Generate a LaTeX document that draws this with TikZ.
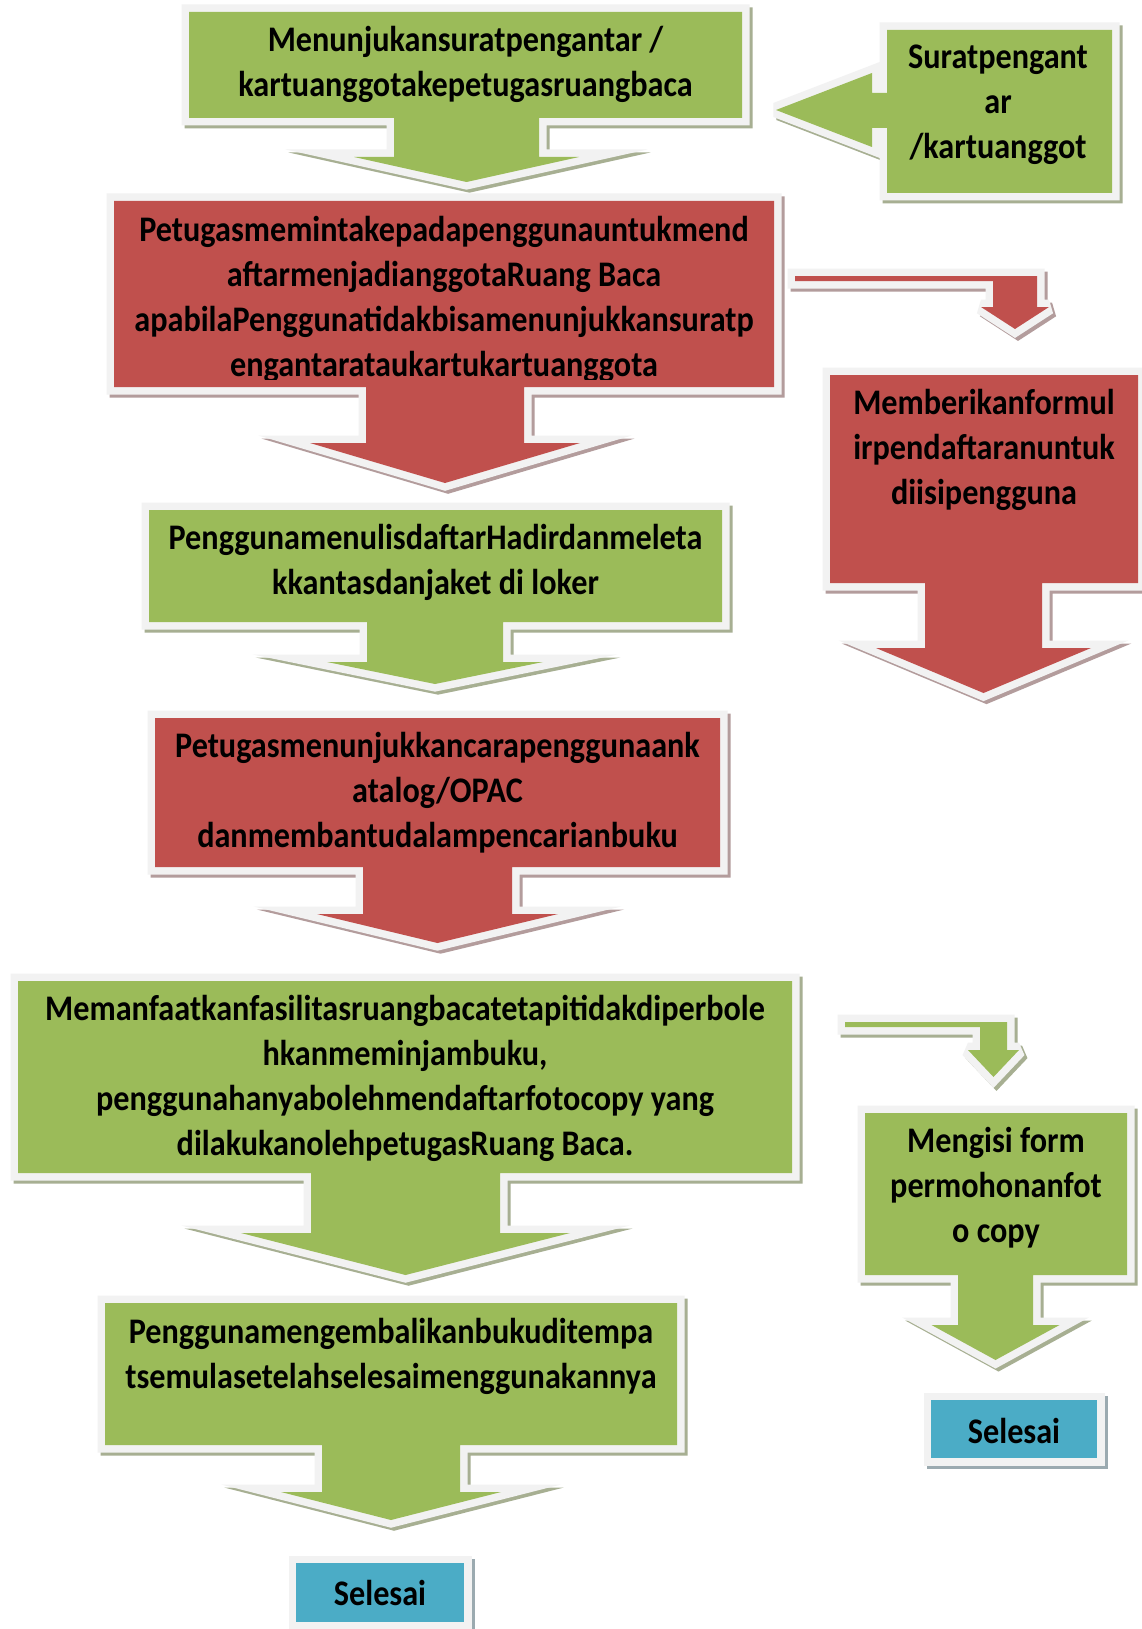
\documentclass[tikz,border=0pt]{standalone}
\usepackage{fontspec}
\setmainfont{Carlito}[FakeStretch=0.895]
\definecolor{cgreen}{HTML}{9BBB59}
\definecolor{cred}{HTML}{C0504D}
\definecolor{cblue}{HTML}{4BACC6}
\definecolor{cborder}{HTML}{F2F2F2}
\definecolor{sgreen}{HTML}{A7AF92}
\definecolor{sred}{HTML}{B39C9C}
\definecolor{sblue}{HTML}{9BAAB0}
\tikzset{
  shadowpart/.style={draw=#1, fill=#1, line width=15pt, line join=miter, shift={(3pt,-3pt)}},
  borderpart/.style={draw=cborder, fill=cborder, line width=15pt, line join=miter},
  sharp/.style={miter limit=25},
  blunt/.style={miter limit=2},
  lbl/.style={font=\bfseries\fontsize{36}{45}\selectfont, align=center, text=black, inner sep=0pt},
}
\newcommand\wshape[4][sharp]{%
  \path[shadowpart=#3,#1] #4;
  \path[borderpart,#1] #4;
  \path[fill=#2] #4;
}
\begin{document}
\begin{tikzpicture}[x=1pt,y=-1pt]
\useasboundingbox (0,0) rectangle (1142,1629);
\fill[white] (0,0) rectangle (1142,1629);

% shape 1 (green)
\wshape{cgreen}{sgreen}{(189,12) -- (742,12) -- (742,118) -- (539,118) -- (539,157) -- (579,157) -- (466.5,182) -- (354,157) -- (394,157) -- (394,118) -- (189,118) -- cycle}
% shape 2 left arrow callout (green)
\wshape[blunt]{cgreen}{sgreen}{(887,30) -- (1112,30) -- (1112,193) -- (887,193) -- (887,128) -- (872,128) -- (872,147) -- (776,110) -- (872,73) -- (872,93) -- (887,93) -- cycle}
% shape 3 (red)
\wshape{cred}{sred}{(114,201) -- (774,201) -- (774,387) -- (524,387) -- (524,443) -- (580,443) -- (445,483) -- (310,443) -- (366,443) -- (366,387) -- (114,387) -- cycle}
% bent arrow 1 (red)
\wshape[blunt]{cred}{sred}{(795,276) -- (1037,276) -- (1037,307) -- (1049,307) -- (1015,329) -- (981,307) -- (993,307) -- (993,281) -- (795,281) -- cycle}
% Memberikan (red)
\wshape{cred}{sred}{(830,375) -- (1138,375) -- (1138,583) -- (1042,583) -- (1042,648) -- (1091,648) -- (983.5,693) -- (876,648) -- (925,648) -- (925,583) -- (830,583) -- cycle}
% shape 4 (green)
\wshape{cgreen}{sgreen}{(149,510) -- (722,510) -- (722,622) -- (503,622) -- (503,662) -- (543,662) -- (435,684) -- (327,662) -- (367,662) -- (367,622) -- (149,622) -- cycle}
% shape 5 (red)
\wshape{cred}{sred}{(155,718) -- (720,718) -- (720,867) -- (512,867) -- (512,914) -- (558,914) -- (437.5,943) -- (317,914) -- (363,914) -- (363,867) -- (155,867) -- cycle}
% shape 6 (green)
\wshape{cgreen}{sgreen}{(18,981) -- (792,981) -- (792,1173) -- (500,1173) -- (500,1233) -- (570,1233) -- (405.5,1275) -- (241,1233) -- (311,1233) -- (311,1173) -- (18,1173) -- cycle}
% bent arrow 2 (green)
\wshape[blunt]{cgreen}{sgreen}{(845,1022) -- (1007,1022) -- (1007,1050) -- (1019,1050) -- (993.5,1077) -- (968,1050) -- (980,1050) -- (980,1027) -- (845,1027) -- cycle}
% Mengisi (green)
\wshape{cgreen}{sgreen}{(865,1113) -- (1127,1113) -- (1127,1275) -- (1033,1275) -- (1033,1325) -- (1059.5,1325) -- (995.5,1360) -- (931.5,1325) -- (958,1325) -- (958,1275) -- (865,1275) -- cycle}
% shape 7 (green)
\wshape{cgreen}{sgreen}{(105,1303) -- (677,1303) -- (677,1445) -- (460,1445) -- (460,1492) -- (501,1492) -- (391,1520) -- (281,1492) -- (322,1492) -- (322,1445) -- (105,1445) -- cycle}
% Selesai boxes (blue)
\wshape{cblue}{sblue}{(931,1400) rectangle (1097,1458)}
\wshape{cblue}{sblue}{(296,1563) rectangle (464,1622)}

% texts
\node[lbl] (t1) at (465.5,64) {Menunjukansuratpengantar /\\kartuanggotakepetugasruangbaca};
\node[lbl] (t2) at (998,105) {Suratpengant\\ar\\/kartuanggot};
\begin{scope}
\clip (114,201) rectangle (774,379);
\node[lbl] (t3) at (444,299) {Petugasmemintakepadapenggunauntukmend\\aftarmenjadianggotaRuang Baca\\apabilaPenggunatidakbisamenunjukkansuratp\\engantarataukartukartuanggota};
\end{scope}
\node[lbl] (t4) at (984,450) {Memberikanformul\\irpendaftaranuntuk\\diisipengguna};
\node[lbl] (t5) at (435.5,562) {PenggunamenulisdaftarHadirdanmeleta\\kkantasdanjaket di loker};
\node[lbl] (t6) at (437.5,793) {Petugasmenunjukkancarapenggunaank\\atalog/OPAC\\danmembantudalampencarianbuku};
\node[lbl] (t7) at (405,1078) {Memanfaatkanfasilitasruangbacatetapitidakdiperbole\\hkanmeminjambuku,\\penggunahanyabolehmendaftarfotocopy yang\\dilakukanolehpetugasRuang Baca.};
\node[lbl] (t8) at (996,1188) {Mengisi form\\permohonanfot\\o copy};
\node[lbl] (t9) at (391,1356) {Penggunamengembalikanbukuditempa\\tsemulasetelahselesaimenggunakannya};
\node[lbl] (t10) at (1014,1431) {Selesai};
\node[lbl] (t11) at (380,1593) {Selesai};
\end{tikzpicture}
\end{document}
